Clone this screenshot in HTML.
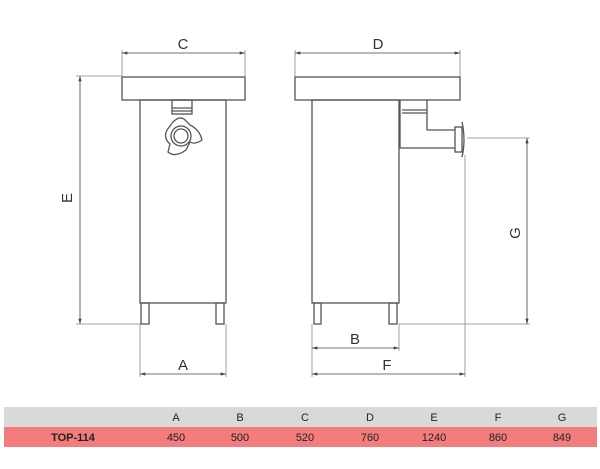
<!DOCTYPE html>
<html><head><style>
body{margin:0;background:#fff;width:600px;height:464px;overflow:hidden;font-family:"Liberation Sans",sans-serif}
</style></head><body>
<svg width="600" height="464" xmlns="http://www.w3.org/2000/svg">
<defs>
<marker id="ar" viewBox="0 0 10 6" refX="10" refY="3" markerWidth="7" markerHeight="4" orient="auto-start-reverse"><path d="M0,0L10,3L0,6z" fill="#444"/></marker>
</defs>
<g fill="none" stroke="#555" stroke-width="1.3">
<!-- left view -->
<rect x="122" y="77" width="123" height="23"/>
<rect x="140" y="100" width="86" height="203"/>
<rect x="141" y="303" width="8" height="21"/>
<rect x="216" y="303" width="8" height="21"/>
<rect x="172" y="100" width="20" height="14"/>
<line x1="172" y1="108" x2="192" y2="108"/>
<line x1="172" y1="111" x2="192" y2="111"/>
<path d="M173,122 Q180,115 185,120 L190,125 Q200,130 202,140 Q195,145 190,142 L186,150 Q175,158 168,152 L170,144 Q163,138 167,130z" fill="#fff"/>
<circle cx="181" cy="136" r="10" fill="#fff"/>
<circle cx="181" cy="136" r="7"/>
<!-- right view -->
<rect x="295" y="77" width="165" height="23"/>
<rect x="312" y="100" width="87" height="203"/>
<rect x="314" y="303" width="7" height="21"/>
<rect x="389" y="303" width="8" height="21"/>
<path d="M400,100 L400,148 L455,148 M427,100 L427,130 L455,130"/>
<line x1="402" y1="110" x2="427" y2="110"/>
<line x1="402" y1="113" x2="427" y2="113"/>
<rect x="455" y="127" width="7" height="25"/>
<path d="M462,122 Q466,140 462,157"/>
</g>
<g stroke="#888" stroke-width="0.8" fill="none">
<line x1="122" y1="50" x2="122" y2="77"/><line x1="245" y1="50" x2="245" y2="77"/>
<line x1="295" y1="50" x2="295" y2="77"/><line x1="460" y1="50" x2="460" y2="77"/>
<line x1="76" y1="76" x2="122" y2="76"/><line x1="76" y1="324" x2="141" y2="324"/>
<line x1="140" y1="324" x2="140" y2="377"/><line x1="226" y1="324" x2="226" y2="377"/>
<line x1="312" y1="324" x2="312" y2="377"/><line x1="399" y1="324" x2="399" y2="351"/>
<line x1="465" y1="155" x2="465" y2="377"/>
<line x1="467" y1="138" x2="530" y2="138"/><line x1="399" y1="324" x2="530" y2="324"/>
</g>
<g stroke="#444" stroke-width="0.8" marker-start="url(#ar)" marker-end="url(#ar)">
<line x1="122" y1="53" x2="245" y2="53"/>
<line x1="295" y1="53" x2="460" y2="53"/>
<line x1="80" y1="76" x2="80" y2="324"/>
<line x1="140" y1="374" x2="226" y2="374"/>
<line x1="312" y1="348" x2="399" y2="348"/>
<line x1="312" y1="374" x2="465" y2="374"/>
<line x1="527" y1="138" x2="527" y2="324"/>
</g>
<g font-size="15" fill="#333" text-anchor="middle">
<text x="183" y="49">C</text>
<text x="378" y="49">D</text>
<text x="183" y="370">A</text>
<text x="355" y="344">B</text>
<text x="387" y="370">F</text>
<text transform="translate(72,198) rotate(-90)">E</text>
<text transform="translate(520,233) rotate(-90)">G</text>
</g>
<rect x="4" y="407" width="593" height="20" fill="#d9d9d9"/>
<rect x="4" y="427" width="593" height="20" fill="#f47c7c"/>
<g font-size="11" fill="#222" text-anchor="middle">
<text x="176" y="421">A</text><text x="240" y="421">B</text><text x="305" y="421">C</text><text x="370" y="421">D</text><text x="434" y="421">E</text><text x="498" y="421">F</text><text x="562" y="421">G</text>
<text x="73" y="441" font-weight="bold">TOP-114</text>
<text x="176" y="441">450</text><text x="240" y="441">500</text><text x="305" y="441">520</text><text x="370" y="441">760</text><text x="434" y="441">1240</text><text x="498" y="441">860</text><text x="562" y="441">849</text>
</g>
</svg>
</body></html>
